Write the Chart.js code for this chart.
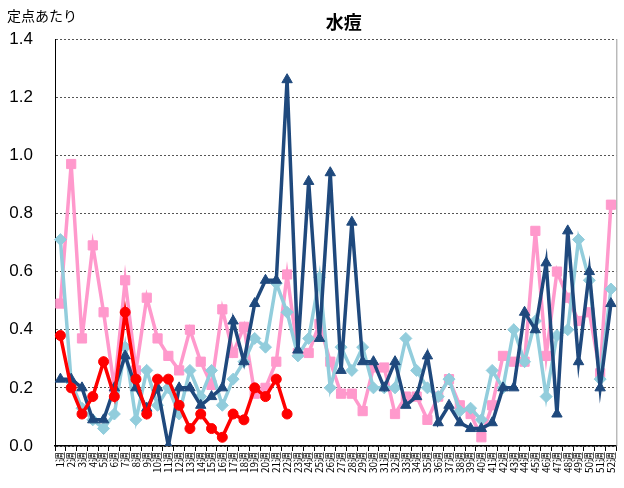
<!DOCTYPE html>
<html>
<head>
<meta charset="utf-8">
<script src="https://cdn.jsdelivr.net/npm/chart.js@4/dist/chart.umd.min.js"></script>
<style>
    html, body { margin: 0; padding: 0; background: #fff; }
    #wrap { width: 624px; height: 488px; }
</style>
</head>
<body>
<div id="wrap"><canvas id="chart"></canvas></div>
<script>
        // 週ラベル
        const weeks = ['1週', '2週', '3週', '4週', '5週', '6週', '7週', '8週', '9週', '10週',
            '11週', '12週', '13週', '14週', '15週', '16週', '17週', '18週', '19週', '20週',
            '21週', '22週', '23週', '24週', '25週', '26週', '27週', '28週', '29週', '30週',
            '31週', '32週', '33週', '34週', '35週', '36週', '37週', '38週', '39週', '40週',
            '41週', '42週', '43週', '44週', '45週', '46週', '47週', '48週', '49週', '50週',
            '51週', '52週'];

        const yTicks = [0, 0.2, 0.4, 0.6, 0.8, 1.0, 1.2, 1.4];

        // ピンク（四角）
        const pinkValues = [0.49, 0.97, 0.37, 0.69, 0.46, 0.20, 0.57, 0.26, 0.51, 0.37,
            0.31, 0.26, 0.40, 0.29, 0.21, 0.47, 0.32, 0.41, 0.18, 0.20,
            0.29, 0.59, 0.32, 0.32, 0.42, 0.29, 0.18, 0.18, 0.12, 0.27,
            0.27, 0.11, 0.17, 0.17, 0.09, 0.17, 0.23, 0.14, 0.11, 0.03,
            0.14, 0.31, 0.29, 0.29, 0.74, 0.31, 0.60, 0.51, 0.43, 0.46,
            0.25, 0.83];

        // 水色（ひし形）
        const lightBlueValues = [0.71, 0.22, 0.13, 0.09, 0.06, 0.11, 0.34, 0.09, 0.26, 0.14,
            0.20, 0.11, 0.26, 0.17, 0.26, 0.14, 0.23, 0.29, 0.37, 0.34,
            0.56, 0.46, 0.31, 0.37, 0.58, 0.20, 0.34, 0.26, 0.34, 0.20,
            0.20, 0.20, 0.37, 0.26, 0.20, 0.17, 0.23, 0.12, 0.13, 0.09,
            0.26, 0.20, 0.40, 0.29, 0.43, 0.17, 0.38, 0.40, 0.71, 0.57,
            0.23, 0.54];

        // 紺（三角）
        const navyValues = [0.23, 0.23, 0.20, 0.09, 0.09, 0.20, 0.31, 0.20, 0.13, 0.20,
            0.00, 0.20, 0.20, 0.14, 0.17, 0.20, 0.43, 0.29, 0.49, 0.57,
            0.57, 1.26, 0.33, 0.91, 0.37, 0.94, 0.26, 0.77, 0.29, 0.29,
            0.20, 0.29, 0.14, 0.17, 0.31, 0.08, 0.14, 0.08, 0.06, 0.06,
            0.08, 0.20, 0.20, 0.46, 0.40, 0.63, 0.11, 0.74, 0.29, 0.60,
            0.20, 0.49];

        // 赤（丸）今年
        const redValues = [0.38, 0.20, 0.11, 0.17, 0.29, 0.17, 0.46, 0.23, 0.11, 0.23,
            0.23, 0.14, 0.06, 0.11, 0.06, 0.03, 0.11, 0.09, 0.20, 0.17,
            0.23, 0.11];

        // タイトル・軸ラベル・右枠を描く
        const textPlugin = {
            id: 'textPlugin',
            afterDraw(chart) {
                const ctx = chart.ctx;
                const area = chart.chartArea;
                ctx.save();
                ctx.fillStyle = '#000';
                ctx.textBaseline = 'middle';
                ctx.textAlign = 'center';
                ctx.font = 'bold 18px "Noto Sans CJK JP"';
                ctx.fillText('水痘', (area.left + area.right) / 2 + 8, 22);
                ctx.textAlign = 'left';
                ctx.font = '14px "Noto Sans CJK JP"';
                ctx.fillText('定点あたり', 7, 16);
                // 右の枠線
                ctx.strokeStyle = '#9a9a9a';
                ctx.lineWidth = 1;
                ctx.beginPath();
                ctx.moveTo(area.right + 0.5, area.top);
                ctx.lineTo(area.right + 0.5, area.bottom);
                ctx.stroke();
                ctx.restore();
            }
        };

        function lineSet(label, data, color, style, radius) {
            return {
                label: label,
                data: data,
                borderColor: color,
                backgroundColor: color,
                borderWidth: 3.5,
                pointStyle: style,
                pointRadius: radius,
                pointBorderWidth: 1,
                pointBorderColor: color,
                pointBackgroundColor: color,
                tension: 0
            };
        }

        new Chart(document.getElementById('chart'), {
            type: 'line',
            data: {
                labels: weeks,
                // 先頭のデータセットが一番上に描かれる
                datasets: [
                    lineSet('今年', redValues, '#ff0000', 'circle', 5),
                    lineSet('前年', navyValues, '#1f497d', 'triangle', 6),
                    lineSet('2年前', lightBlueValues, '#92cddc', 'rectRot', 6),
                    lineSet('3年前', pinkValues, '#ff99cc', 'rect', 6.5)
                ]
            },
            options: {
                responsive: true,
                maintainAspectRatio: false,
                animation: false,
                layout: { padding: { top: 39, right: 4, left: 0, bottom: 0 } },
                plugins: {
                    legend: { display: false },
                    tooltip: { enabled: false }
                },
                scales: {
                    x: {
                        offset: true,
                        grid: {
                            offset: true,
                            drawOnChartArea: false,
                            drawTicks: true,
                            tickLength: 5,
                            color: '#000'
                        },
                        border: { color: '#000', width: 1.5 },
                        ticks: {
                            autoSkip: false,
                            minRotation: 90,
                            maxRotation: 90,
                            padding: 1,
                            color: '#000',
                            font: { size: 10, family: '"Noto Sans CJK JP"' }
                        },
                        afterFit(scale) { scale.height = 42; }
                    },
                    y: {
                        min: 0,
                        max: 1.4,
                        afterBuildTicks(scale) {
                            scale.ticks = yTicks.map(v => ({ value: v }));
                        },
                        grid: {
                            drawTicks: false,
                            color: '#555',
                            lineWidth: 1
                        },
                        // v4 では点線の指定は border.dash（グリッド線に効く）
                        border: { color: '#000', width: 1, dash: [2, 2] },
                        ticks: {
                            padding: 22,
                            color: '#000',
                            font: { size: 17, family: '"Liberation Sans", Arial' },
                            callback: v => Number(v).toFixed(1)
                        },
                        afterFit(scale) { scale.width = 55; }
                    }
                }
            },
            plugins: [textPlugin]
        });
</script>
</body>
</html>
